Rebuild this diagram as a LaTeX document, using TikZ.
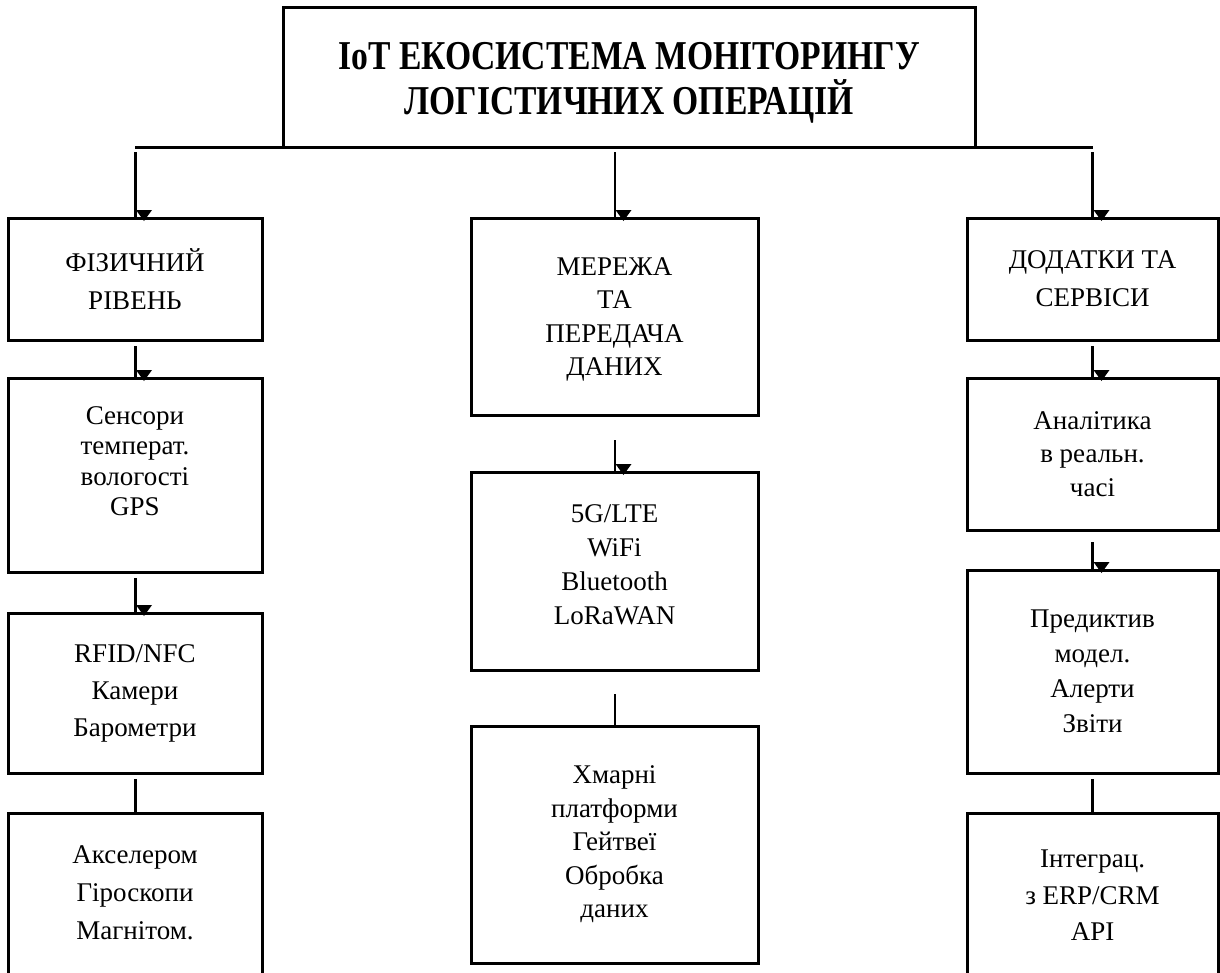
\documentclass[tikz,border=0pt]{standalone}
\usepackage{fontspec}
\setmainfont{Liberation Serif}
\newfontfamily\titlefont[FakeStretch=0.82]{Liberation Serif}
\usetikzlibrary{calc}
% small filled arrow tip sitting on the top edge of a box
\newcommand\tipon[1]{\fill ($(#1.north)+(9,3)$) -- ++(-8,-11) -- ++(16,0) -- cycle;}
\begin{document}
\begin{tikzpicture}[x=1pt,y=-1pt,
  box/.style={draw, line width=3pt, inner sep=0pt, outer sep=0pt, align=center},
  lsp/.style={font=\fontsize{27}{#1}\selectfont},
  link/.style={line width=3pt},
  thinlink/.style={line width=2pt}]
\useasboundingbox (0,0) rectangle (1220,972);

% title
\node[box, minimum width=692, minimum height=140,
      label={[font=\titlefont\bfseries\fontsize{41}{45}\selectfont, align=center, yshift=-6pt]center:IoT ЕКОСИСТЕМА МОНІТОРИНГУ\\ЛОГІСТИЧНИХ ОПЕРАЦІЙ}] (top) at (629,77) {};

% left column
\node[box, lsp=38, minimum width=254, minimum height=122] (l1) at (135,279) {ФІЗИЧНИЙ\\РІВЕНЬ};
\node[box, minimum width=254, minimum height=194,
      label={[lsp=30.5, align=center, yshift=14pt]center:Сенсори\\температ.\\вологості\\GPS}] (l2) at (135,475) {};
\node[box, lsp=37, minimum width=254, minimum height=160] (l3) at (135,693) {RFID/NFC\\Камери\\Барометри};
\node[box, minimum width=254, minimum height=165,
      label={[lsp=38, align=center, yshift=3pt]center:Акселером\\Гіроскопи\\Магнітом.}] (l4) at (135,895.5) {};

% middle column
\node[box, minimum width=287, minimum height=197,
      label={[lsp=33.5, align=center, yshift=-3pt]center:МЕРЕЖА\\ТА\\ПЕРЕДАЧА\\ДАНИХ}] (m1) at (614.5,316.5) {};
\node[box, minimum width=287, minimum height=198,
      label={[lsp=34, align=center, yshift=6pt]center:5G/LTE\\WiFi\\Bluetooth\\LoRaWAN}] (m2) at (614.5,571) {};
\node[box, lsp=33.5, minimum width=287, minimum height=237] (m3) at (614.5,844.5) {Хмарні\\платформи\\Гейтвеї\\Обробка\\даних};

% right column
\node[box, lsp=38, minimum width=251, minimum height=122] (r1) at (1092.5,279) {ДОДАТКИ ТА\\СЕРВІСИ};
\node[box, lsp=33.5, minimum width=251, minimum height=152] (r2) at (1092.5,454) {Аналітика\\в реальн.\\часі};
\node[box, lsp=35, minimum width=251, minimum height=203] (r3) at (1092.5,671.5) {Предиктив\\модел.\\Алерти\\Звіти};
\node[box, lsp=36.5, minimum width=251, minimum height=165] (r4) at (1092.5,895.5) {Інтеграц.\\з ERP/CRM\\API};

% bus under the title
\draw[link] (l1.north |- top.south) -- (r1.north |- top.south);
\draw[link] ($(l1.north |- top.south)+(0,5)$) -- (l1.north);
\draw[thinlink] ($(m1.north |- top.south)+(0,5)$) -- (m1.north);
\draw[link] ($(r1.north |- top.south)+(0,5)$) -- (r1.north);
\tipon{l1} \tipon{m1} \tipon{r1}

% left chain
\draw[link] ($(l1.south)+(0,6)$) -- (l2.north); \tipon{l2}
\draw[link] ($(l2.south)+(0,6)$) -- (l3.north); \tipon{l3}
\draw[link] ($(l3.south)+(0,6)$) -- (l4.north);

% middle chain
\draw[thinlink] ($(m1.south)+(0,25)$) -- (m2.north); \tipon{m2}
\draw[thinlink] ($(m2.south)+(0,24)$) -- (m3.north);

% right chain
\draw[link] ($(r1.south)+(0,6)$) -- (r2.north); \tipon{r2}
\draw[link] ($(r2.south)+(0,12)$) -- (r3.north); \tipon{r3}
\draw[link] ($(r3.south)+(0,6)$) -- (r4.north);
\end{tikzpicture}
\end{document}
